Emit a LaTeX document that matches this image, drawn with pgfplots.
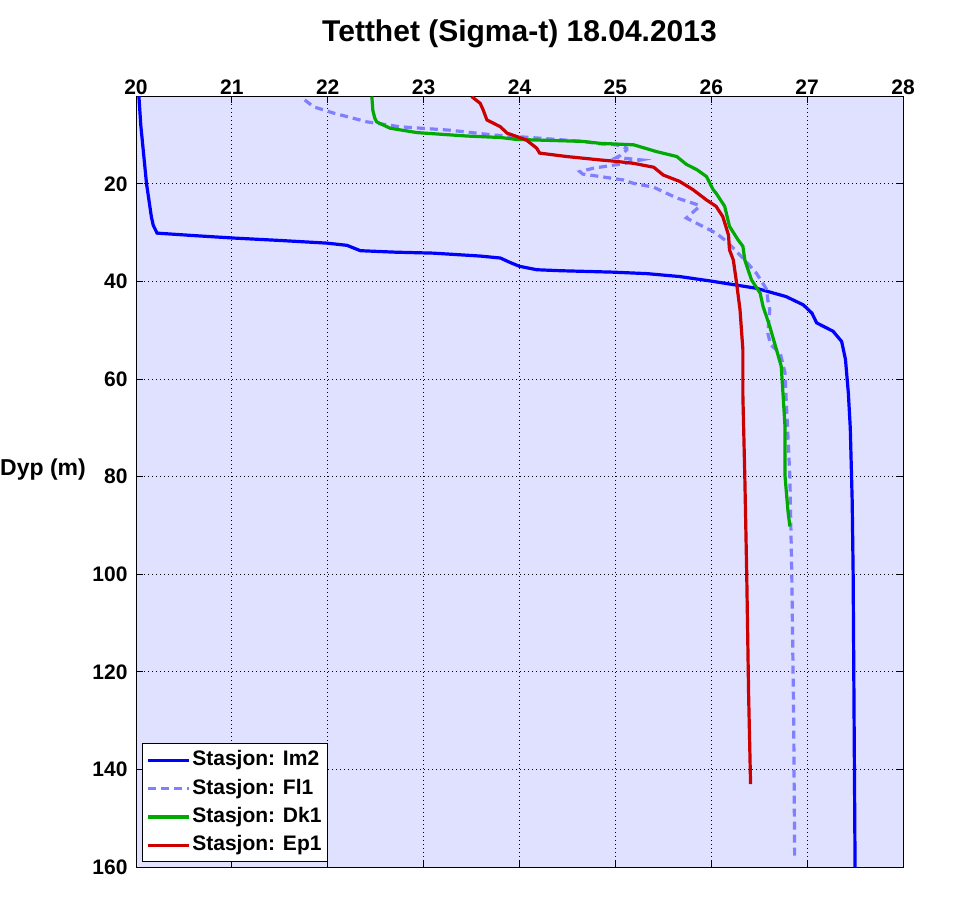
\documentclass[border=0pt]{standalone}
\usepackage{fontspec}
\setmainfont{Liberation Sans}
\usepackage{pgfplots}
\pgfplotsset{compat=1.18}
\definecolor{bgc}{RGB}{224,224,255}
\definecolor{cIm}{RGB}{0,0,255}
\definecolor{cFl}{RGB}{128,128,255}
\definecolor{cDk}{RGB}{0,170,0}
\definecolor{cEp}{RGB}{204,0,0}
\begin{document}
\begin{tikzpicture}[x=1pt,y=1pt]
\path[use as bounding box] (0,0) rectangle (965,903);
\begin{axis}[
  at={(136pt,36pt)}, anchor=south west,
  scale only axis, width=767pt, height=771pt,
  xmin=20, xmax=28, ymin=2, ymax=160,
  y dir=reverse,
  xtick={20,21,...,28}, ytick={20,40,...,160},
  xticklabel pos=upper,
  tick pos=both, tick align=inside,
  major tick length=7pt,
  tick style={black, line width=0.8pt},
  axis line style={black, line width=1pt},
  axis background/.style={fill=bgc},
  grid=major,
  major grid style={black, line width=0.9pt, dash pattern=on 1pt off 3pt},
  /pgf/number format/assume math mode=true,
  ticklabel style={font=\bfseries\fontsize{21}{23}\selectfont},
  xticklabel style={yshift=-2pt},
  yticklabel style={xshift=-5pt},
  legend cell align=left,
  legend style={at={(0.0074,0.006)}, anchor=south west,
    draw=black, line width=1pt, fill=white,
    font=\bfseries\fontsize{21}{23}\selectfont,
    inner xsep=4pt, inner ysep=4pt,
    row sep=3.3pt,
    nodes={inner sep=2pt, text height=16pt, text depth=5pt}},
  legend image code/.code={\draw[#1] (0pt,0pt) -- (41pt,0pt);},
]
\addplot[cIm, line width=3.2pt] table {
20.03 2
20.05 8
20.08 14
20.11 20
20.14 24
20.16 26.7
20.18 28.5
20.22 30.1
20.60 30.6
21.01 31.1
21.50 31.6
21.99 32.15
22.20 32.6
22.34 33.7
22.70 34.0
23.10 34.2
23.59 34.8
23.80 35.2
23.90 36.1
24.00 36.9
24.18 37.6
24.42 37.8
24.98 38.1
25.33 38.4
25.67 39.0
25.99 39.9
26.47 41.4
26.78 43.1
26.96 44.8
27.05 46.5
27.10 48.5
27.27 50.2
27.36 52.3
27.40 56
27.43 62.9
27.45 70
27.47 85
27.48 100
27.49 130
27.50 160
};
\addlegendentry{Stasjon: Im2}
\addplot[cFl, line width=3.2pt, dash pattern=on 8pt off 5pt] table {
21.76 2.8
21.85 4.2
22.06 5.5
22.41 7.3
22.75 8.3
23.27 9.0
23.73 10.0
23.97 10.3
24.66 11.3
24.84 11.8
25.01 12.0
25.12 12.7
25.12 13.0
25.05 14.2
25.01 14.6
25.27 15.1
25.10 15.8
24.77 16.8
24.63 17.5
24.66 18.0
24.84 18.5
25.08 19.2
25.19 19.9
25.40 20.7
25.64 22.9
25.86 24.3
25.88 24.6
25.74 27.0
25.88 28.4
26.05 30.1
26.16 31.8
26.33 35.2
26.47 38.3
26.58 41.7
26.59 43.8
26.61 45.8
26.59 50.6
26.62 53
26.72 54.7
26.77 58.8
26.78 63.6
26.82 80
26.84 100
26.86 130
26.87 158.4
};
\addlegendentry{Stasjon: Fl1}
\addplot[cDk, line width=3.2pt] table {
22.46 2.1
22.47 4.9
22.49 6.5
22.51 7.3
22.65 8.6
22.93 9.5
23.45 10.2
23.80 10.5
23.97 10.9
24.66 11.3
24.84 11.7
25.19 12.0
25.43 13.4
25.64 14.4
25.74 16.0
25.85 17.1
25.95 18.5
26.02 21.2
26.05 21.9
26.14 24.6
26.19 28.7
26.28 31.5
26.33 32.8
26.35 35.6
26.42 39.7
26.51 42.4
26.54 45.1
26.61 49.2
26.66 52.6
26.73 57.4
26.75 63.5
26.77 70
26.77 80
26.80 87
26.82 90.2
};
\addlegendentry{Stasjon: Dk1}
\addplot[cEp, line width=3.2pt] table {
23.50 2.1
23.59 3.5
23.62 4.8
23.66 6.9
23.73 7.6
23.80 8.3
23.87 9.6
24.07 11.0
24.18 12.7
24.21 13.7
24.49 14.4
24.84 15.1
25.01 15.4
25.19 15.8
25.40 16.6
25.50 18.2
25.67 19.5
25.81 21.2
25.95 23.3
26.05 24.6
26.12 26.7
26.18 30.5
26.19 33.5
26.23 35.6
26.26 39.7
26.30 45.8
26.33 54.0
26.33 63.5
26.35 80
26.37 100
26.39 125
26.41 143.0
};
\addlegendentry{Stasjon: Ep1}
\end{axis}
\node[anchor=base, font=\bfseries\fontsize{30}{32}\selectfont] at (519.5,861.3) {Tetthet (Sigma-t) 18.04.2013};
\node[anchor=west, inner sep=0pt, font=\bfseries\fontsize{23}{25}\selectfont] at (0,433) {Dyp (m)};
\end{tikzpicture}
\end{document}
